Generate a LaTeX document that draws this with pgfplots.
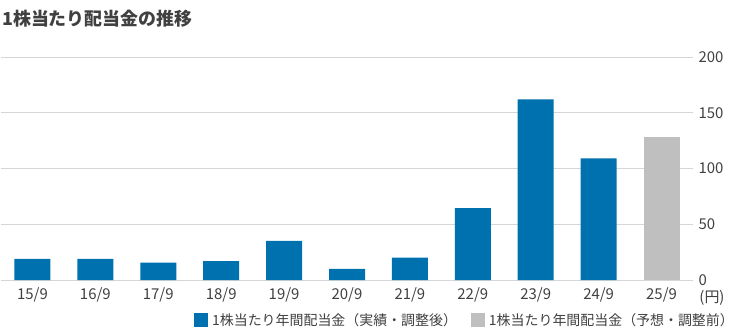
\documentclass[border=0pt]{standalone}
\usepackage{fontspec}
\setmainfont{Noto Sans CJK JP}
\usepackage{pgfplots}
\pgfplotsset{compat=1.18}
\definecolor{barblue}{HTML}{0071AF}
\definecolor{bargray}{HTML}{BFBFBF}
\definecolor{gridc}{HTML}{D6D6D6}
\definecolor{txt}{HTML}{404040}
\begin{document}
\begin{tikzpicture}
\path[use as bounding box] (-1bp,-52bp) rectangle (738bp,280bp);
\begin{axis}[
  at={(0,0)}, anchor=south west,
  scale only axis, width=692bp, height=223bp,
  xmin=-0.5, xmax=10.5, ymin=0, ymax=200,
  ytick={0,50,100,150,200},
  xtick={0,1,2,3,4,5,6,7,8,9,10},
  xticklabels={15/9,16/9,17/9,18/9,19/9,20/9,21/9,22/9,23/9,24/9,25/9},
  yticklabel pos=right,
  axis line style={draw=none},
  major tick length=0pt,
  ymajorgrids, grid style={gridc, line width=1bp},
  /pgf/number format/assume math mode=true,
  tick label style={font=\fontsize{15}{15}\selectfont, text=txt},
  xticklabel style={yshift=-4bp},
  yticklabel style={xshift=2bp},
  ybar, bar width=36bp, bar shift=0pt,
  legend columns=2,
  legend style={at={(axis description cs:0.6705,-0.179)}, anchor=center, draw=none,
    inner sep=0pt,
    font=\fontsize{14}{14}\selectfont, text=txt, /tikz/every even column/.append style={column sep=12bp}},
  legend image code/.code={\fill[#1] (0bp,-7bp) rectangle (14bp,7bp); \path (16bp,0bp);},
]
\addplot[fill=barblue, draw=none] coordinates {(0,19) (1,19) (2,15.5) (3,17) (4,35) (5,10) (6,20) (7,64.5) (8,162) (9,109)};
\addlegendentry{1株当たり年間配当金（実績・調整後）}
\addplot[fill=bargray, draw=none] coordinates {(10,128)};
\addlegendentry{1株当たり年間配当金（予想・調整前）}
\end{axis}
\node[anchor=west, inner sep=0pt, font=\bfseries\fontsize{18}{18}\selectfont, text=txt] at (1bp,261bp) {1株当たり配当金の推移};
\node[inner sep=0pt, font=\fontsize{15}{15}\selectfont, text=txt] at (711bp,-18bp) {(円)};
\end{tikzpicture}
\end{document}
